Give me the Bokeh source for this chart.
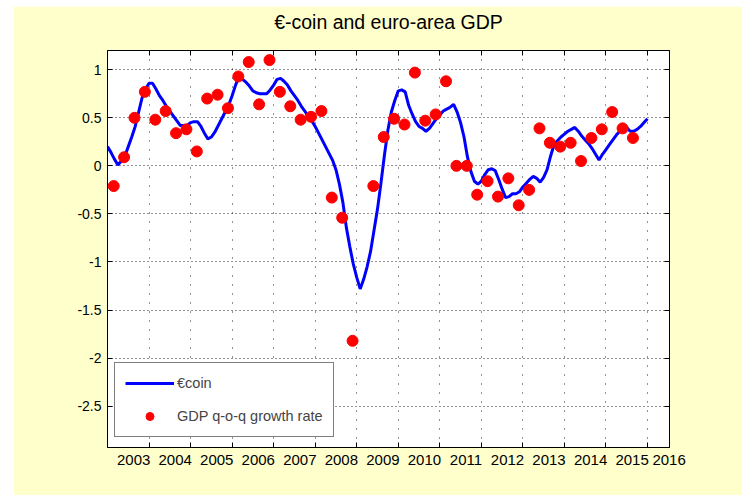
from bokeh.plotting import figure
from bokeh.models import (Range1d, FixedTicker, LinearAxis, Legend, LegendItem,
                          Grid, Spacer, CustomJSTickFormatter)
from bokeh.layouts import column, row
from bokeh.embed import file_html
from bokeh.resources import INLINE
import numpy as np

# ---------------- data ----------------
coin_start = 2002.0          # first monthly observation (decimal year)
coin_values = [
    0.20, 0.14, 0.07, 0.01, 0.05, 0.10, 0.20, 0.30, 0.41, 0.56, 0.71, 0.80, 0.86,
    0.86, 0.80, 0.73, 0.68, 0.62, 0.57, 0.52, 0.47, 0.42, 0.42, 0.42, 0.45,
    0.46, 0.46, 0.41, 0.34, 0.28, 0.30, 0.35, 0.42, 0.49, 0.56, 0.63, 0.73,
    0.84, 0.93, 0.90, 0.87, 0.83, 0.78, 0.76, 0.75, 0.75, 0.75, 0.79, 0.84,
    0.90, 0.91, 0.88, 0.84, 0.78, 0.73, 0.68, 0.62, 0.57, 0.51, 0.47, 0.41,
    0.34, 0.27, 0.20, 0.13, 0.06, -0.04, -0.19, -0.38, -0.64, -0.84, -1.02, -1.16,
    -1.28, -1.18, -1.05, -0.89, -0.67, -0.45, -0.18, 0.11, 0.37, 0.56, 0.68, 0.78,
    0.79, 0.77, 0.63, 0.54, 0.46, 0.41, 0.39, 0.36, 0.39, 0.44, 0.49, 0.53,
    0.57, 0.59, 0.61, 0.64, 0.56, 0.45, 0.30, 0.09, -0.06, -0.16, -0.19, -0.16,
    -0.09, -0.04, -0.03, -0.05, -0.14, -0.24, -0.33, -0.32, -0.29, -0.29, -0.27, -0.22,
    -0.18, -0.14, -0.11, -0.13, -0.17, -0.12, -0.04, 0.10, 0.22, 0.26, 0.30, 0.33,
    0.36, 0.38, 0.40, 0.36, 0.31, 0.27, 0.23, 0.18, 0.12, 0.06, 0.12, 0.17,
    0.22, 0.27, 0.32, 0.36, 0.41, 0.40, 0.36, 0.36, 0.38, 0.41, 0.45, 0.49,
]

gdp_start = 2002.15          # first quarterly observation (decimal year)
gdp_values = [
    -0.21, 0.09, 0.50, 0.77, 0.48, 0.57, 0.34, 0.38, 0.15, 0.70, 0.74, 0.60,
    0.93, 1.08, 0.64, 1.10, 0.77, 0.62, 0.48, 0.51, 0.57, -0.33, -0.54, -1.82,
    float("nan"), -0.21, 0.30, 0.49, 0.43, 0.97, 0.47, 0.535, 0.88, 0.0, 0.0, -0.30,
    -0.16, -0.32, -0.13, -0.41, -0.25, 0.39, 0.24, 0.20, 0.24, 0.05, 0.29, 0.38,
    0.56, 0.39, 0.29,
]

title_text = "€-coin and euro-area GDP"
year_ticks = [2003, 2004, 2005, 2006, 2007, 2008, 2009, 2010, 2011, 2012, 2013, 2014, 2015]
year_labels = ["2003", "2004", "2005", "2006", "2007", "2008", "2009", "2010",
               "2011", "2012", "2013", "2014", "2015", "2016"]
y_ticks = [-2.5, -2.0, -1.5, -1.0, -0.5, 0.0, 0.5, 1.0]
y_labels = ["-2.5", "-2", "-1.5", "-1", "-0.5", "0", "0.5", "1"]

coin_x = coin_start + np.arange(len(coin_values)) / 12.0
gdp_x = gdp_start + 0.25 * np.arange(len(gdp_values))

# ---------------- figure ----------------
FONT = "Liberation Sans"
YELLOW = "#ffffcc"
X0, X1 = 2002.0, 2015.53

p = figure(width=729, height=489, output_backend="svg", toolbar_location=None,
           x_range=Range1d(X0, X1), y_range=Range1d(-2.93, 1.2),
           min_border_left=94, min_border_right=73, min_border_top=44,
           min_border_bottom=48, x_axis_type=None, y_axis_type=None)
p.border_fill_color = YELLOW
p.background_fill_color = "white"
p.outline_line_color = "black"
p.outline_line_width = 1

xt = FixedTicker(ticks=year_ticks)
yt = FixedTicker(ticks=y_ticks)
blank = CustomJSTickFormatter(code="return ''")

def tick_axis(ticker):
    ax = LinearAxis(ticker=ticker, formatter=blank)
    ax.axis_line_color = "black"
    ax.major_tick_line_color = "black"
    ax.major_tick_in = 5
    ax.major_tick_out = 0
    ax.minor_tick_line_color = None
    ax.major_label_standoff = 0
    return ax

# inward ticks on all four sides
p.add_layout(tick_axis(xt), "below")
p.add_layout(tick_axis(yt), "right")

# top axis carries the chart title as its axis label
top = tick_axis(xt)
top.axis_label = title_text
top.axis_label_text_font = FONT
top.axis_label_text_font_size = "19.5px"
top.axis_label_text_font_style = "normal"
top.axis_label_text_color = "black"
top.axis_label_standoff = 18
p.add_layout(top, "above")

left = tick_axis(yt)
left.formatter = CustomJSTickFormatter(
    args=dict(t=y_ticks, l=y_labels),
    code="for (let i = 0; i < t.length; i++) { if (Math.abs(t[i] - tick) < 1e-9) return l[i]; } return '';")
left.major_label_text_font = FONT
left.major_label_text_font_size = "14px"
left.major_label_text_color = "black"
left.major_label_standoff = 6
p.add_layout(left, "left")

# year labels: placed just left of each year tick (right-aligned look of the original)
label_pos = [y - 0.37 for y in year_ticks] + [X1 - 0.01]
lab_axis = LinearAxis(ticker=FixedTicker(ticks=label_pos),
                      formatter=CustomJSTickFormatter(
                          args=dict(t=label_pos, l=year_labels),
                          code="for (let i = 0; i < t.length; i++) { if (Math.abs(t[i] - tick) < 1e-9) return l[i]; } return '';"))
lab_axis.axis_line_color = None
lab_axis.major_tick_line_color = None
lab_axis.minor_tick_line_color = None
lab_axis.major_tick_in = 0
lab_axis.major_tick_out = 0
lab_axis.major_label_standoff = 7
lab_axis.major_label_text_font = FONT
lab_axis.major_label_text_font_size = "15px"
lab_axis.major_label_text_color = "black"
p.add_layout(lab_axis, "below")

gx = Grid(dimension=0, ticker=xt, grid_line_color="black", grid_line_dash="1 8",
          grid_line_width=1, grid_line_alpha=0.85)
gy = Grid(dimension=1, ticker=yt, grid_line_color="black", grid_line_dash="1 3",
          grid_line_width=1, grid_line_alpha=0.85)
p.add_layout(gx)
p.add_layout(gy)

# series
r_line = p.line(coin_x, coin_values, line_color="#0000ff", line_width=3)
r_pts = p.scatter(gdp_x, gdp_values, size=11, fill_color="#ff0000",
                  line_color="#ff0000", marker="circle")

legend = Legend(items=[LegendItem(label="€coin", renderers=[r_line]),
                       LegendItem(label="GDP q-o-q growth rate", renderers=[r_pts])],
                location=(7, 10), margin=0, padding=10, spacing=13,
                glyph_width=49, glyph_height=20, label_height=20,
                label_standoff=3, label_text_font=FONT,
                label_text_font_size="14.5px", border_line_color="black",
                border_line_width=1, background_fill_color="white",
                background_fill_alpha=1)
p.add_layout(legend, "center")

page = column(Spacer(width=742, height=6),
              row(Spacer(width=13, height=489), p, spacing=0), spacing=0)

open("out.html", "w").write(file_html(page, INLINE))
